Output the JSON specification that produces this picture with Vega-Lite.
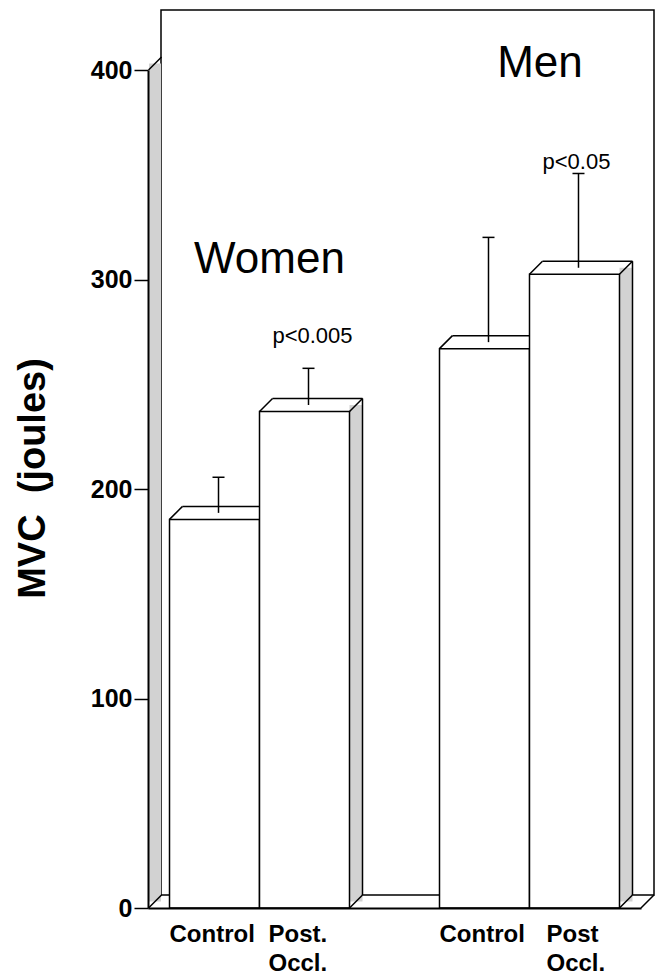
{
  "$schema": "https://vega.github.io/schema/vega-lite/v6.json",
  "width": 493,
  "height": 885,
  "autosize": "none",
  "padding": {"left": 161, "top": 10, "right": 8, "bottom": 80},
  "background": "white",
  "config": {
    "view": {"stroke": "black", "strokeWidth": 1.5},
    "font": "Liberation Sans"
  },
  "data": {
    "values": [
      {"bar": "Women Control", "group": "Women", "condition": "Control", "mvc": 185.5, "upper": 202.5},
      {"bar": "Women Post", "group": "Women", "condition": "Post Occl.", "mvc": 237, "upper": 254.5, "p": "p<0.005"},
      {"bar": "Men Control", "group": "Men", "condition": "Control", "mvc": 267, "upper": 317},
      {"bar": "Men Post", "group": "Men", "condition": "Post Occl.", "mvc": 302.5, "upper": 347.5, "p": "p<0.05"}
    ]
  },
  "encoding": {
    "x": {
      "field": "bar",
      "type": "nominal",
      "scale": {
        "type": "band",
        "domain": ["Women Control", "Women Post", "gap", "Men Control", "Men Post"],
        "range": [-13, 480],
        "paddingInner": 0,
        "paddingOuter": 0.239
      },
      "axis": {
        "orient": "bottom",
        "offset": 13,
        "title": null,
        "domainColor": "black",
        "domainWidth": 2,
        "ticks": false,
        "labelAlign": "left",
        "labelBaseline": "top",
        "labelPadding": 14,
        "labelFontSize": 24,
        "labelFontWeight": "bold",
        "labelColor": "black",
        "labelLineHeight": 29,
        "labelAngle": 0,
        "labelOverlap": false,
        "labelFlush": false,
        "labelBound": false,
        "labelOffset": {
          "condition": [
            {"test": "datum.value === 'Women Post'", "value": -36},
            {"test": "datum.value === 'Men Post'", "value": -28}
          ],
          "value": -45
        },
        "labelExpr": "datum.value === 'Women Control' || datum.value === 'Men Control' ? 'Control' : datum.value === 'Women Post' ? ['Post.', 'Occl.'] : datum.value === 'Men Post' ? ['Post', 'Occl.'] : ''",
        "zindex": 1
      }
    },
    "y": {
      "field": "mvc",
      "type": "quantitative",
      "scale": {"domain": [0, 400], "range": [898, 60], "nice": false},
      "axis": {
        "title": "MVC\u00a0\u00a0(joules)",
        "titleFontSize": 38,
        "titleFontWeight": "bold",
        "titleColor": "black",
        "titlePadding": 38,
        "titleY": 468,
        "offset": 13,
        "values": [0, 100, 200, 300, 400],
        "grid": false,
        "domainColor": "black",
        "domainWidth": 2,
        "tickColor": "black",
        "tickSize": 14,
        "tickWidth": 1.5,
        "labelFontSize": 25,
        "labelFontWeight": "bold",
        "labelColor": "black",
        "labelPadding": 2,
        "zindex": 1
      }
    }
  },
  "layer": [
    {
      "transform": [{"filter": "datum.bar === 'Women Control'"}],
      "mark": {"type": "rule", "stroke": "#d2d2d2", "strokeWidth": 12, "strokeCap": "butt", "xOffset": -59.5, "yOffset": -6.5, "y2Offset": -6.5},
      "encoding": {"y": {"datum": 400}, "y2": {"datum": 0}}
    },
    {
      "transform": [{"filter": "datum.bar === 'Women Control'"}],
      "mark": {"type": "point", "shape": "M -1 1 L 1 -1", "size": 169, "filled": false, "stroke": "black", "strokeWidth": 1.5, "opacity": 1, "xOffset": -59.5, "yOffset": -6.5},
      "encoding": {"y": {"datum": 400}}
    },
    {
      "transform": [{"filter": "datum.bar === 'Women Control'"}],
      "mark": {"type": "point", "shape": "M -1 1 L 1 -1", "size": 169, "filled": false, "stroke": "black", "strokeWidth": 1.5, "opacity": 1, "xOffset": -59.5, "yOffset": -6.5},
      "encoding": {"y": {"datum": 0}}
    },
    {
      "transform": [{"filter": "datum.bar === 'Men Post'"}],
      "mark": {"type": "point", "shape": "M -1 1 L 1 -1", "size": 169, "filled": false, "stroke": "black", "strokeWidth": 1.5, "opacity": 1, "xOffset": 73, "yOffset": -6.5},
      "encoding": {"y": {"datum": 0}}
    },
    {
      "mark": {"type": "bar", "width": 13, "fill": "#d2d2d2", "xOffset": 51.5, "yOffset": -6.5, "y2Offset": -6.5},
      "encoding": {"y2": {"datum": 0}}
    },
    {
      "mark": {"type": "rule", "stroke": "black", "strokeWidth": 1.5, "xOffset": 58, "yOffset": -13, "y2Offset": -13},
      "encoding": {"y2": {"datum": 0}}
    },
    {
      "mark": {"type": "tick", "color": "black", "size": 90, "thickness": 1.5, "opacity": 1, "xOffset": 13, "yOffset": -13}
    },
    {
      "mark": {"type": "point", "shape": "M -1 1 L 1 -1", "size": 169, "filled": false, "stroke": "black", "strokeWidth": 1.5, "opacity": 1, "xOffset": -38.5, "yOffset": -6.5}
    },
    {
      "mark": {"type": "point", "shape": "M -1 1 L 1 -1", "size": 169, "filled": false, "stroke": "black", "strokeWidth": 1.5, "opacity": 1, "xOffset": 51.5, "yOffset": -6.5}
    },
    {
      "mark": {"type": "point", "shape": "M -1 1 L 1 -1", "size": 169, "filled": false, "stroke": "black", "strokeWidth": 1.5, "opacity": 1, "xOffset": 51.5, "yOffset": -6.5},
      "encoding": {"y": {"datum": 0}}
    },
    {
      "mark": {"type": "bar", "fill": "white", "stroke": "black", "strokeWidth": 1.5}
    },
    {
      "mark": {"type": "rule", "stroke": "black", "strokeWidth": 1.5, "xOffset": 4, "yOffset": -6.5, "y2Offset": -6.5},
      "encoding": {"y2": {"field": "upper"}}
    },
    {
      "mark": {"type": "tick", "color": "black", "size": 12, "thickness": 1.5, "opacity": 1, "xOffset": 4, "yOffset": -6.5},
      "encoding": {"y": {"field": "upper", "type": "quantitative"}}
    },
    {
      "transform": [{"filter": "datum.group === 'Women' && datum.p"}],
      "mark": {"type": "text", "fontSize": 22, "color": "black", "align": "center", "baseline": "alphabetic", "dx": 8, "dy": -31.5},
      "encoding": {"y": {"field": "upper", "type": "quantitative"}, "text": {"field": "p"}}
    },
    {
      "transform": [{"filter": "datum.group === 'Men' && datum.p"}],
      "mark": {"type": "text", "fontSize": 22, "color": "black", "align": "center", "baseline": "alphabetic", "dx": 2, "dy": -10.5},
      "encoding": {"y": {"field": "upper", "type": "quantitative"}, "text": {"field": "p"}}
    },
    {
      "transform": [{"filter": "datum.bar === 'Women Post'"}],
      "mark": {"type": "text", "fontSize": 44, "color": "black", "align": "center", "baseline": "alphabetic", "dx": -35},
      "encoding": {"y": {"datum": 303}, "text": {"field": "group"}}
    },
    {
      "transform": [{"filter": "datum.bar === 'Men Post'"}],
      "mark": {"type": "text", "fontSize": 44, "color": "black", "align": "center", "baseline": "alphabetic", "dx": -34.5},
      "encoding": {"y": {"datum": 396.7}, "text": {"field": "group"}}
    }
  ]
}
